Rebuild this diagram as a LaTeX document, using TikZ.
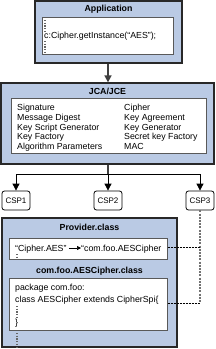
\documentclass[tikz,border=0pt]{standalone}
\usepackage{fontspec}
\setmainfont{Liberation Sans}
\usetikzlibrary{arrows.meta}
\definecolor{boxblue}{RGB}{186,202,228}
\definecolor{edgegray}{RGB}{40,40,40}
\begin{document}
\begin{tikzpicture}[x=1pt,y=-1pt,
 font=\fontsize{8.8}{9.7}\selectfont,
 outerbox/.style={draw=edgegray, line width=1.3pt, fill=boxblue, inner sep=0},
 innerbox/.style={draw=black!65, line width=1pt, fill=white, inner sep=0},
 cspbox/.style={draw=black, line width=0.8pt, fill=white, rounded corners=2.5pt, inner sep=0, font=\fontsize{8}{9}\selectfont},
 ttl/.style={font=\fontsize{8.8}{9.7}\selectfont\bfseries, anchor=base, inner sep=0},
 txt/.style={anchor=base west, inner sep=0},
 arr/.style={-{Triangle[length=7pt,width=7pt]}},
 vdots/.style={line width=1.1pt, dash pattern=on 1.1pt off 1.6pt, black!60},
 dotline/.style={line width=1.3pt, dash pattern=on 2pt off 1.2pt, black!55},
 dashline/.style={line width=0.6pt, dash pattern=on 2pt off 1pt, black}
]
\useasboundingbox (0,0) rectangle (216,349);

% Application
\node[outerbox, minimum width=147pt, minimum height=62pt] (app) at (108.5,32) {};
\node[ttl] (apptitle) at (108.5,11.5) {Application};
\node[innerbox, minimum width=131pt, minimum height=37pt] (appin) at (107.5,35.5) {};
\node[txt] (appcode) at (44,38) {c:Cipher.getInstance(“AES”);};
\coordinate (ad1) at (45,20);
\coordinate (ad2) at (45,31);
\coordinate (ad3) at (45,41);
\coordinate (ad4) at (45,53);
\draw[vdots] (ad1) -- (ad2);
\draw[vdots] (ad3) -- (ad4);

% JCA/JCE
\node[outerbox, minimum width=213pt, minimum height=81pt] (jca) at (107.5,123.5) {};
\node[ttl] (jcatitle) at (107.5,94) {JCA/JCE};
\node[innerbox, minimum width=195pt, minimum height=55pt] (jcain) at (108.5,125.5) {};
\node[txt] (l1) at (17,110.5) {Signature};
\node[txt] (l2) at (17,120.2) {Message Digest};
\node[txt] (l3) at (17,130) {Key Script Generator};
\node[txt] (l4) at (17,139.7) {Key Factory};
\node[txt] (l5) at (17,149.4) {Algorithm Parameters};
\node[txt] (r1) at (124,110.5) {Cipher};
\node[txt] (r2) at (124,120.2) {Key Agreement};
\node[txt] (r3) at (124,130) {Key Generator};
\node[txt] (r4) at (124,139.7) {Secret key Factory};
\node[txt] (r5) at (124,149.4) {MAC};

\draw[arr, line width=1.6pt, black!75] (app.south -| 108,0) -- (jca.north -| 108,0);

% CSPs
\node[cspbox, minimum width=28pt, minimum height=19pt] (csp1) at (16,200.5) {CSP1};
\node[cspbox, minimum width=28pt, minimum height=19pt] (csp2) at (108,200.5) {CSP2};
\node[cspbox, minimum width=28pt, minimum height=19pt] (csp3) at (200,200.5) {CSP3};
\coordinate (br) at (108,174);
\draw[line width=1.6pt, black!75] (jca.south -| br) -- (br);
\draw[line width=0.8pt] (csp1.north |- br) -- (csp3.north |- br);
\draw[arr, line width=0.8pt] (csp1.north |- br) -- (csp1.north);
\draw[arr, line width=0.8pt] (br) -- (csp2.north);
\draw[arr, line width=0.8pt] (csp3.north |- br) -- (csp3.north);

% Provider
\node[outerbox, minimum width=175pt, minimum height=129pt] (prov) at (89.5,282.5) {};
\node[ttl] (provtitle) at (89.5,230) {Provider.class};
\node[innerbox, minimum width=158pt, minimum height=21pt] (provin1) at (88,248.5) {};
\node[txt] (pa) at (15,251) {“Cipher.AES”};
\node[txt] (pb) at (81,251) {“com.foo.AESCipher};
\draw[-{Triangle[length=4pt,width=4pt]}, line width=0.6pt] (pa.east |- 0,248) ++(2,0) coordinate (pas) -- (pb.west |- pas);
\coordinate (pd1) at (17,254);
\coordinate (pd2) at (17,259);
\draw[vdots] (pd1) -- (pd2);

\node[ttl] (aestitle) at (89.5,273) {com.foo.AESCipher.class};
\node[innerbox, minimum width=158pt, minimum height=52pt] (provin2) at (88,304) {};
\node[txt] (c1) at (15,290) {package com.foo:};
\node[txt] (c2) at (15,302) {class AESCipher extends CipherSpi\{};
\node[txt] (c3) at (15,325) {\}};
\coordinate (cd1) at (17,306);
\coordinate (cd2) at (17,319);
\draw[vdots] (cd1) -- (cd2);
\coordinate (cd3) at (17,333);
\coordinate (cd4) at (17,347);
\draw[vdots] (cd3) -- (cd4);

% dotted links
\coordinate (dj1) at (200,247);
\coordinate (dj2) at (200,303);
\draw[dotline] (csp3.south) -- (dj2);
\draw[dashline] (provin1.east |- dj1) -- (dj1);
\draw[dashline] (provin2.east |- dj2) -- (dj2);
\end{tikzpicture}
\end{document}
